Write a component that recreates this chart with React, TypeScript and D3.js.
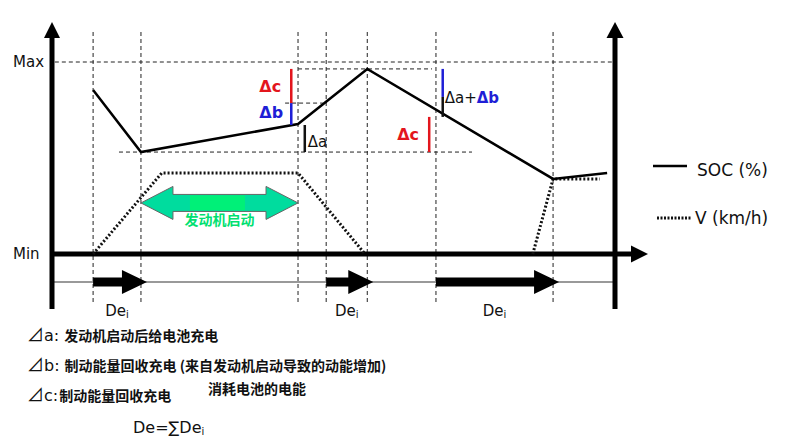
import React from 'react';
import * as d3 from 'd3';

const W = 785;
const H = 444;

// time axis: 0..100 across the frame; value axis: Min = 0, Max = 100
const socTime = [7.3, 15.8, 43.7, 56.0, 89.0, 98.6];
const socValue = [85.4, 53.1, 67.7, 96.4, 39.1, 42.2];
const speedTimeA = [7.3, 19.5, 43.7, 55.6];
const speedValueA = [0, 42.2, 42.2, 0];
const speedTimeB = [85.4, 89.0, 97.3];
const speedValueB = [0, 39.1, 39.1];
const guideTimes = [7.3, 15.8, 43.7, 48.7, 56.0, 68.2, 89.0];
const deiStart = [7.3, 48.7, 68.2];
const deiEnd = [15.8, 56.0, 89.0];
const hGuideValue = [100, 96.4, 78.6, 53.1];
const hGuideFrom = [0.5, 43.7, 41.4, 11.9];
const hGuideTo = [100, 67.5, 48.1, 74.6];
const engineStart = [15.8, 43.7];
const engineLevel = 26.6;
const engineLabel = '发动机启动';
const yLabels = ['Max', 'Min'];
const yLabelValues = [100, 0];
const legendLabels = ['SOC (%)', 'V (km/h)'];
const deltaTime = [42.5, 42.5, 44.9, 69.4, 69.4, 67.0];
const deltaFrom = [96.4, 78.6, 67.2, 96.4, 81.8, 71.4];
const deltaTo = [78.6, 67.2, 53.1, 81.8, 71.4, 53.1];
const deltaKind = ['c', 'b', 'a', 'b', 'a', 'c'];
const noteKeys = ['a', 'b', 'c'];
const noteTexts = ['发动机启动后给电池充电', '制动能量回收充电 (来自发动机启动导致的动能增加)', '制动能量回收充电'];
const extraNote = '消耗电池的电能';

const RED = '#e3161d';
const BLUE = '#1f1fd6';
const LATIN = '"DejaVu Sans", Verdana, sans-serif';
const CJK = '"Noto Sans CJK SC", sans-serif';

const x = d3.scaleLinear().domain([0, 100]).range([52, 615]);
const y = d3.scaleLinear().domain([0, 100]).range([254, 62]);

const kindColor: Record<string, string> = { a: '#111', b: BLUE, c: RED };

export default function App() {
  const line = d3.line<[number, number]>().x((d) => x(d[0])).y((d) => y(d[1]));
  const soc = line(socTime.map((t, i) => [t, socValue[i]]));
  const vA = line(speedTimeA.map((t, i) => [t, speedValueA[i]]));
  const vB = line(speedTimeB.map((t, i) => [t, speedValueB[i]]));

  const axL = x(0);
  const axR = x(100);
  const axY = y(0);
  const laneY = axY + 28;
  const topY = 22;
  const botY = 309;

  // green double arrow
  const gx0 = x(engineStart[0]);
  const gx1 = x(engineStart[1]);
  const gy = y(engineLevel);
  const hl = 32, hh = 16.5, sh = 8.5;
  const gPts = [
    [gx0, gy], [gx0 + hl, gy - hh], [gx0 + hl, gy - sh], [gx1 - hl, gy - sh], [gx1 - hl, gy - hh],
    [gx1, gy], [gx1 - hl, gy + hh], [gx1 - hl, gy + sh], [gx0 + hl, gy + sh], [gx0 + hl, gy + hh],
  ].map((p) => p.join(',')).join(' ');

  const bar = (i: number) => ({ xx: x(deltaTime[i]), y1: y(deltaFrom[i]), y2: y(deltaTo[i]) });
  const b0 = bar(0), b1 = bar(1), b2 = bar(2), b3 = bar(3), b5 = bar(5);

  return (
    <svg width={W} height={H} style={{ position: 'absolute', left: 0, top: 0, background: '#fff' }}>
      {/* vertical dashed guides */}
      {guideTimes.map((t, i) => (
        <line key={'vg' + i} x1={x(t)} x2={x(t)} y1={32} y2={303} stroke="#222" strokeWidth={1} strokeDasharray="4,3" />
      ))}
      {/* horizontal dashed guides */}
      {hGuideValue.map((v, i) => (
        <line key={'hg' + i} x1={x(hGuideFrom[i])} x2={x(hGuideTo[i])} y1={y(v)} y2={y(v)} stroke="#222" strokeWidth={1} strokeDasharray="4,3" />
      ))}

      {/* lane line */}
      <line x1={axL} x2={axR} y1={laneY} y2={laneY} stroke="#777" strokeWidth={1.5} />

      {/* axes */}
      <line x1={axL} x2={axL} y1={botY} y2={topY + 12} stroke="#000" strokeWidth={5} />
      <polygon points={`${axL},${topY} ${axL - 8},${topY + 16} ${axL + 8},${topY + 16}`} fill="#000" />
      <line x1={axR} x2={axR} y1={botY} y2={topY + 12} stroke="#000" strokeWidth={5} />
      <polygon points={`${axR},${topY} ${axR - 8.5},${topY + 16} ${axR + 8.5},${topY + 16}`} fill="#000" />
      <line x1={axL} x2={634} y1={axY} y2={axY} stroke="#000" strokeWidth={5} />
      <polygon points={`648,${axY} 631,${axY - 8.5} 631,${axY + 8.5}`} fill="#000" />

      {/* axis labels */}
      {yLabels.map((l, i) => (
        <text key={l} x={13} y={y(yLabelValues[i]) + 5} fontFamily={LATIN} fontSize={15} fill="#111">{l}</text>
      ))}

      {/* speed (dotted) */}
      <path d={vA ?? ''} fill="none" stroke="#111" strokeWidth={3} strokeDasharray="2,2" />
      <path d={vB ?? ''} fill="none" stroke="#111" strokeWidth={3} strokeDasharray="2,2" />

      {/* SOC line */}
      <path d={soc ?? ''} fill="none" stroke="#000" strokeWidth={2.5} strokeLinejoin="miter" />

      {/* green engine-start arrow */}
      <polygon points={gPts} fill="#00dc9e" stroke="#666" strokeWidth={1} />
      <rect x={gx0 + 49} y={gy - sh + 1} width={55} height={2 * sh - 2} fill="#00f078" />
      <text x={(gx0 + gx1) / 2} y={gy + 22} textAnchor="middle" fontFamily={CJK} fontWeight={700} fontSize={14} fill="#00e070">{engineLabel}</text>

      {/* delta bars */}
      {deltaTime.map((t, i) => (
        <line key={'d' + i} x1={x(t)} x2={x(t)} y1={y(deltaFrom[i])} y2={y(deltaTo[i])} stroke={kindColor[deltaKind[i]]} strokeWidth={2.5} />
      ))}
      <text x={b0.xx - 32} y={(b0.y1 + b0.y2) / 2 + 6} fontFamily={LATIN} fontWeight={700} fontSize={16} fill={RED}>Δc</text>
      <text x={b1.xx - 32} y={(b1.y1 + b1.y2) / 2 + 4} fontFamily={LATIN} fontWeight={700} fontSize={16} fill={BLUE}>Δb</text>
      <text x={b2.xx + 3} y={(b2.y1 + b2.y2) / 2 + 8} fontFamily={LATIN} fontSize={15} fill="#111">Δa</text>
      <text x={b3.xx + 2} y={b3.y2 + 6} fontFamily={LATIN} fontSize={15} fill="#111">Δa+<tspan fontWeight={700} fill={BLUE}>Δb</tspan></text>
      <text x={b5.xx - 32} y={(b5.y1 + b5.y2) / 2 + 6} fontFamily={LATIN} fontWeight={700} fontSize={16} fill={RED}>Δc</text>

      {/* Dei arrows */}
      {deiStart.map((s, i) => {
        const x0 = x(s);
        const tip = x(deiEnd[i]) + 6;
        const hb = tip - 25;
        const pts = [[x0, laneY - 4.5], [hb, laneY - 4.5], [hb, laneY - 12], [tip, laneY], [hb, laneY + 12], [hb, laneY + 4.5], [x0, laneY + 4.5]]
          .map((p) => p.join(',')).join(' ');
        return (
          <g key={'dei' + i}>
            <polygon points={pts} fill="#000" />
            <text x={(x0 + x(deiEnd[i])) / 2} y={laneY + 34} textAnchor="middle" fontFamily={LATIN} fontSize={15} fill="#111">De<tspan fontSize={10} dy={2}>i</tspan></text>
          </g>
        );
      })}

      {/* legend */}
      <line x1={653} x2={687} y1={166} y2={166} stroke="#000" strokeWidth={2.5} />
      <text x={697} y={176} fontFamily={LATIN} fontSize={17} fill="#111">{legendLabels[0]}</text>
      <line x1={657} x2={692} y1={218} y2={218} stroke="#111" strokeWidth={3} strokeDasharray="2,1.5" />
      <text x={695} y={224} fontFamily={LATIN} fontSize={17} fill="#111">{legendLabels[1]}</text>

      {/* notes */}
      {noteKeys.map((k, i) => (
        <text key={'n' + k} x={27} y={341 + i * 30} fill="#111">
          <tspan fontFamily={CJK} fontSize={17}>⊿</tspan>
          <tspan fontFamily={LATIN} fontSize={16}>{k}:</tspan>
          <tspan fontFamily={CJK} fontWeight={700} fontSize={14} dx={i === 2 ? 1 : 5}>{noteTexts[i]}</tspan>
        </text>
      ))}
      <text x={208} y={394} fontFamily={CJK} fontWeight={700} fontSize={14} fill="#111">{extraNote}</text>
      <text x={133} y={433} fontFamily={LATIN} fontSize={16} fill="#111">De=∑De<tspan fontSize={10} dy={2}>i</tspan></text>
    </svg>
  );
}
